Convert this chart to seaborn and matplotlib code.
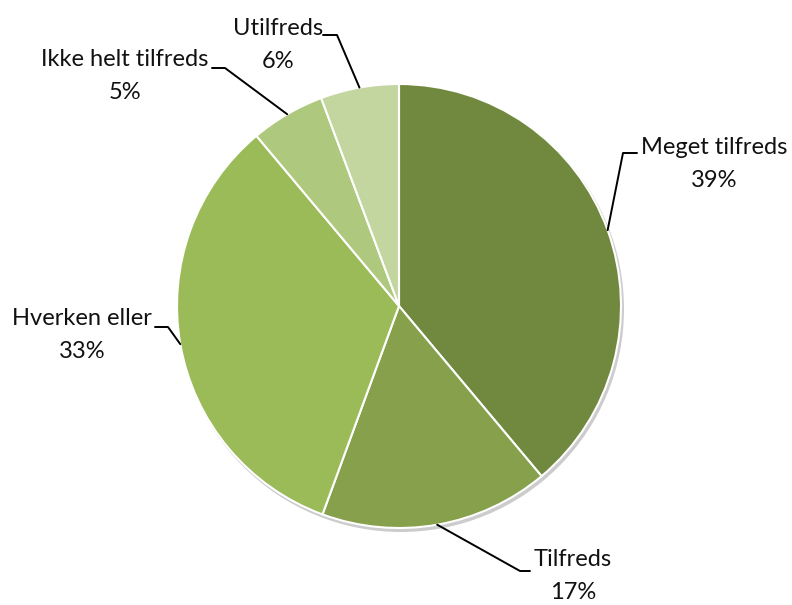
import matplotlib.pyplot as plt
import seaborn as sns
import numpy as np
from matplotlib.patches import Circle

# --------------------------------------------------
# Data
# --------------------------------------------------
categories = ['Meget tilfreds', 'Tilfreds', 'Hverken eller', 'Ikke helt tilfreds', 'Utilfreds']
shares = [38.9, 16.7, 33.3, 5.4, 5.7]
colors = ['#71893F', '#86A04C', '#9BBB59', '#AEC97D', '#C3D69F']

# label layout in pixels (from top-left): text centre, elbow, end of leader
label_xy = [(714, 164), (573, 576), (82, 335), (125, 76), (278, 45)]
elbow_xy = [(623, 153), (520, 571), (168, 327), (225, 68), (337, 35)]
end_xy = [(637, 153), (530, 571), (155, 327), (212, 68), (323, 35)]

W, H = 792, 605
cx, cy, r = 399, 306, 222

sns.set_theme(style='white')
plt.rcParams['font.family'] = ['Lato', 'DejaVu Sans']

fig = plt.figure(figsize=(W / 100, H / 100), dpi=100)
ax = fig.add_axes([0, 0, 1, 1])

# soft shadow behind the pie
ax.add_patch(Circle((cx + 2, H - cy - 3), r + 1, facecolor='#9a9a9a', alpha=0.5,
                    edgecolor='none', zorder=0))

wedges, _ = ax.pie(shares, colors=sns.color_palette(colors), startangle=90,
                   counterclock=False, center=(cx, H - cy), radius=r,
                   wedgeprops={'edgecolor': 'white', 'linewidth': 1.5})

ax.set_xlim(0, W)
ax.set_ylim(0, H)
ax.set_aspect('equal')
ax.axis('off')

# labels with leader lines
for w, name, val, txt, elb, end in zip(wedges, categories, shares, label_xy, elbow_xy, end_xy):
    mid = np.deg2rad((w.theta1 + w.theta2) / 2)
    ax_pt = (cx + r * np.cos(mid), H - cy + r * np.sin(mid))
    ax.plot([ax_pt[0], elb[0], end[0]], [ax_pt[1], H - elb[1], H - end[1]],
            color='black', linewidth=1.4, zorder=5)
    ax.text(txt[0], H - txt[1], f'{name}\n{round(val):.0f}%', ha='center', va='center',
            multialignment='center', fontsize=17, linespacing=1.7, color='#111111')

plt.savefig('out.png', dpi=100)
